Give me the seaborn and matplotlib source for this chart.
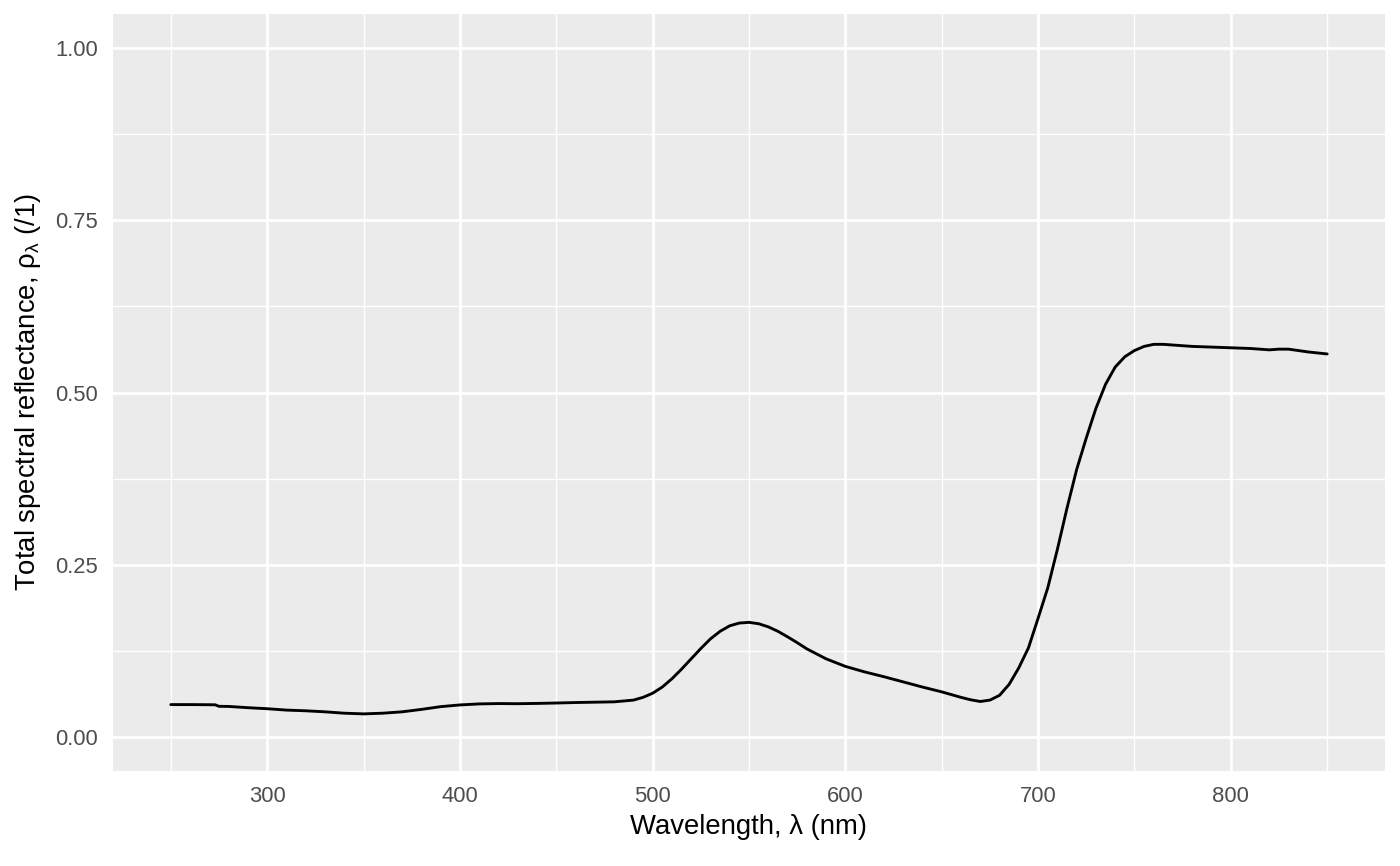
import numpy as np
import pandas as pd
import matplotlib
matplotlib.use("Agg")
import matplotlib.pyplot as plt
from matplotlib.ticker import FormatStrFormatter
import seaborn as sns

# spectrum
wavelength = [250, 260, 270, 273, 275, 280, 290, 300, 310, 320, 330, 340, 350,
              360, 370, 380, 390, 400, 410, 420, 430, 440, 450, 460, 470, 480,
              490, 495, 500, 505, 510, 515, 520, 525, 530, 535, 540, 545, 550,
              555, 560, 565, 570, 575, 580, 590, 600, 610, 620, 630, 640, 650,
              660, 665, 670, 675, 680, 685, 690, 695, 700, 705, 710, 715, 720,
              725, 730, 735, 740, 745, 750, 755, 760, 765, 770, 780, 790, 800,
              810, 820, 825, 830, 835, 840, 850]
reflectance = [0.0465, 0.0465, 0.0463, 0.0462, 0.0440, 0.0438, 0.0420, 0.0405,
               0.0385, 0.0375, 0.0360, 0.0340, 0.0330, 0.0340, 0.0360, 0.0395,
               0.0435, 0.0460, 0.0475, 0.0480, 0.0478, 0.0482, 0.0488, 0.0495,
               0.0500, 0.0505, 0.0530, 0.0570, 0.0630, 0.0720, 0.0840, 0.0980,
               0.1130, 0.1280, 0.1420, 0.1530, 0.1610, 0.1650, 0.1660, 0.1640,
               0.1595, 0.1530, 0.1450, 0.1365, 0.1275, 0.1130, 0.1020, 0.0940,
               0.0870, 0.0795, 0.0720, 0.0650, 0.0570, 0.0535, 0.0510, 0.0530,
               0.0600, 0.0760, 0.1000, 0.1290, 0.1720, 0.2160, 0.2720, 0.3320,
               0.3880, 0.4340, 0.4770, 0.5120, 0.5370, 0.5520, 0.5610, 0.5670,
               0.5700, 0.5700, 0.5690, 0.5670, 0.5660, 0.5650, 0.5640, 0.5620,
               0.5630, 0.5630, 0.5610, 0.5590, 0.5560]

x_major = [300, 400, 500, 600, 700, 800]
x_minor = [250, 350, 450, 550, 650, 750, 850]
y_major = [0.00, 0.25, 0.50, 0.75, 1.00]
y_minor = [0.125, 0.375, 0.625, 0.875]

df = pd.DataFrame({"wl": wavelength, "refl": reflectance})

sns.set_theme(style="darkgrid", rc={
    "axes.facecolor": "#EBEBEB",
    "figure.facecolor": "white",
    "grid.color": "white",
})
plt.rcParams["font.family"] = ["Liberation Sans", "DejaVu Sans"]
plt.rcParams["mathtext.fontset"] = "custom"
plt.rcParams["mathtext.rm"] = "Liberation Sans"
plt.rcParams["mathtext.it"] = "Liberation Sans:italic"

fig, ax = plt.subplots(figsize=(1400 / 180, 866 / 180), dpi=180)
fig.subplots_adjust(left=0.0807, right=0.9893, top=0.9838, bottom=0.1097)

sns.lineplot(data=df, x="wl", y="refl", ax=ax, color="black", linewidth=1.15)

ax.set_xlim(220, 880)
ax.set_ylim(-0.05, 1.05)
ax.set_xticks(x_major)
ax.set_xticks(x_minor, minor=True)
ax.set_yticks(y_major)
ax.set_yticks(y_minor, minor=True)
ax.yaxis.set_major_formatter(FormatStrFormatter("%.2f"))

ax.grid(which="major", color="white", linewidth=1.1)
ax.grid(which="minor", color="white", linewidth=0.55)
ax.set_axisbelow(True)
for s in ax.spines.values():
    s.set_visible(False)

ax.tick_params(which="major", length=3.5, width=1.1, color="#333333",
               labelcolor="#4D4D4D", labelsize=8.8, pad=2.5)
ax.tick_params(which="minor", length=0)

ax.set_xlabel("Wavelength, λ (nm)", fontsize=11, color="black", labelpad=3)
ax.set_ylabel("Total spectral reflectance, ρ$_\\mathregular{λ}$ (/1)",
              fontsize=11, color="black", labelpad=5)

fig.savefig("out.png", dpi=180)
